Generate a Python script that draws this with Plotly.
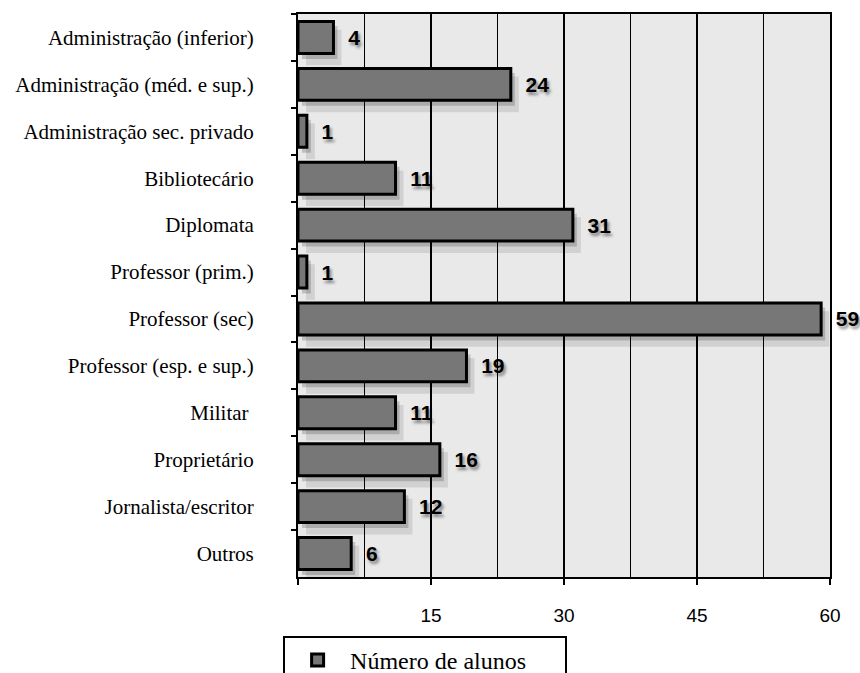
import plotly.graph_objects as go

categories = [
    "Administração (inferior)",
    "Administração (méd. e sup.)",
    "Administração sec. privado",
    "Bibliotecário",
    "Diplomata",
    "Professor (prim.)",
    "Professor (sec)",
    "Professor (esp. e sup.)",
    "Militar ",
    "Proprietário",
    "Jornalista/escritor",
    "Outros",
]
alunos = [4, 24, 1, 11, 31, 1, 59, 19, 11, 16, 12, 6]
x_ticks = [0, 15, 30, 45, 60]
x_tick_labels = ["", "15", "30", "45", "60"]

n = len(categories)
W, H = 860, 673
ML, MR, MT, MB = 298, 30, 14, 96
px_x = 60 / (W - ML - MR)
px_y = n / (H - MT - MB)

fig = go.Figure()

# two soft shadow layers, each on its own hidden axis pair shifted down/right
shadow_layers = [("x", "y", 8, 10, 0.10, 0.76), ("x2", "y2", 4, 5, 0.18, 0.70)]
for xa, ya, dx, dy, alpha, w in shadow_layers:
    fig.add_trace(go.Bar(
        y=categories, x=alunos, orientation="h",
        marker=dict(color=f"rgba(0,0,0,{alpha})", line=dict(width=0)),
        width=w, hoverinfo="skip", showlegend=False,
        xaxis=xa, yaxis=ya,
    ))
    sx, sy = dx * px_x, dy * px_y
    ax = dict(range=[-sx, 60 - sx], visible=False, fixedrange=True)
    ay = dict(range=[n - 0.5 - sy, -0.5 - sy], visible=False, fixedrange=True)
    if xa != "x":
        ax["overlaying"] = "x"
        ay["overlaying"] = "y"
    fig.update_layout({"xaxis" + xa[1:]: ax, "yaxis" + ya[1:]: ay})

fig.add_trace(go.Bar(
    y=categories, x=alunos, orientation="h", name="Número de alunos",
    marker=dict(color="#777777", line=dict(color="#000000", width=3)),
    width=0.68,
    text=alunos, texttemplate="  %{text}", textposition="outside",
    textfont=dict(family="Liberation Sans, Arial", size=21, color="#000000",
                  weight="bold", shadow="2px 3px 3px rgba(0,0,0,0.45)"),
    cliponaxis=False,
    xaxis="x3", yaxis="y3",
))

fig.update_layout(
    width=W, height=H,
    paper_bgcolor="white",
    plot_bgcolor="#e9e9e9",
    margin=dict(l=ML, r=MR, t=MT, b=MB, autoexpand=False),
    font=dict(family="Liberation Serif, Times New Roman", color="#000000"),
    showlegend=True,
    legend=dict(
        orientation="h", x=-0.028, xanchor="left",
        yref="container", y=(H - 636) / H, yanchor="top",
        bordercolor="#000000", borderwidth=2, bgcolor="white",
        font=dict(family="Liberation Serif, Times New Roman", size=24),
        entrywidth=210, itemwidth=55,
    ),
    xaxis3=dict(
        overlaying="x", side="bottom", range=[0, 60], automargin=False,
        tickvals=x_ticks, ticktext=x_tick_labels,
        ticks="outside", ticklen=6, tickwidth=2, tickcolor="#000000",
        ticklabelstandoff=14,
        tickfont=dict(family="Liberation Sans, Arial", size=19),
        showgrid=True, gridcolor="#000000", gridwidth=2,
        minor=dict(dtick=7.5, showgrid=True, gridcolor="#000000", gridwidth=1),
        showline=True, linecolor="#000000", linewidth=2, mirror=True,
        zeroline=False,
    ),
    yaxis3=dict(
        overlaying="y", side="left", range=[n - 0.5, -0.5], automargin=False,
        type="category", tickson="boundaries",
        ticks="outside", ticklen=5, tickwidth=2, tickcolor="#000000",
        ticklabelstandoff=38,
        tickfont=dict(family="Liberation Serif, Times New Roman", size=21),
        showgrid=False,
        showline=True, linecolor="#000000", linewidth=2, mirror=True,
    ),
)

# drop the browser's default 8px body margin so the figure fills the window
fig.write_html("out.html", config={"displayModeBar": False},
               post_script="document.body.style.margin = '0';")
